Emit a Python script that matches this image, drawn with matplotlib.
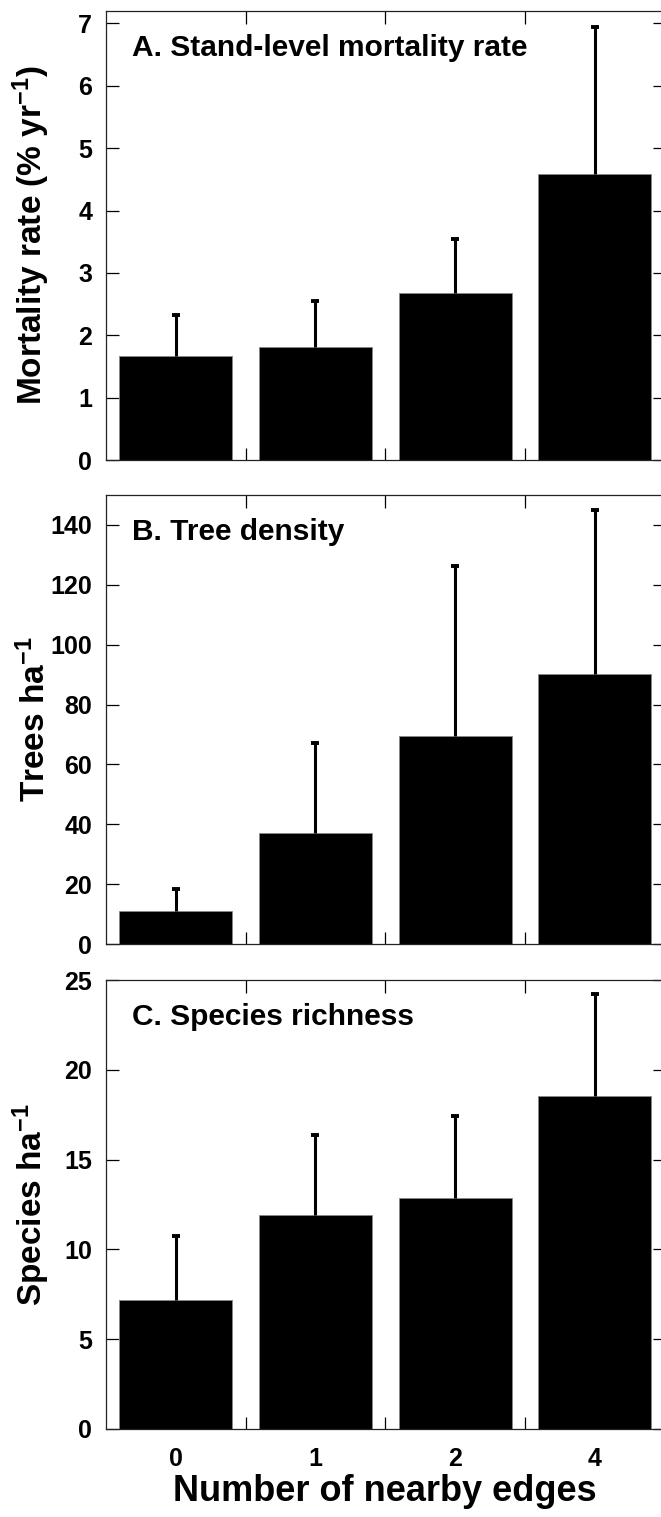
import numpy as np
import matplotlib
matplotlib.use("Agg")
import matplotlib.pyplot as plt

plt.rcParams["font.family"] = ["Liberation Sans", "DejaVu Sans"]
plt.rcParams["font.weight"] = "bold"
plt.rcParams["mathtext.default"] = "regular"

# Number of nearby edges (category labels on the x axis).
edge_labels = ["0", "1", "2", "4"]

# A. Stand-level mortality rate (% per yr): mean and upper error.
mortality = [1.67, 1.81, 2.68, 4.59]
mortality_err = [0.66, 0.74, 0.87, 2.35]

# B. Tree density (trees per ha).
density = [10.9, 37.0, 69.5, 90.2]
density_err = [7.5, 30.1, 56.7, 54.8]

# C. Species richness (species per ha).
richness = [7.18, 11.9, 12.88, 18.54]
richness_err = [3.58, 4.47, 4.55, 5.66]

panels = [
    ("A. Stand-level mortality rate", "Mortality rate (% yr$^{-1}$)",
     mortality, mortality_err, 7.2, np.arange(0, 8, 1)),
    ("B. Tree density", "Trees ha$^{-1}$",
     density, density_err, 150, np.arange(0, 141, 20)),
    ("C. Species richness", "Species ha$^{-1}$",
     richness, richness_err, 25, np.arange(0, 26, 5)),
]

W, H = 661, 1517
fig = plt.figure(figsize=(W / 100, H / 100), dpi=100)

left = 106 / W
width = (664.5 - 106) / W
tops = [11, 495, 980]
panel_h = 449

x = np.arange(len(edge_labels))

for (title, ylabel, vals, errs, ymax, yticks), top in zip(panels, tops):
    ax = fig.add_axes([left, 1 - (top + panel_h) / H, width, panel_h / H])

    ax.bar(x, vals, width=0.81, color="black", edgecolor="#888888",
           linewidth=0.6, zorder=2)
    eb = ax.errorbar(x, vals, yerr=[np.zeros(len(vals)), errs], fmt="none",
                     ecolor="black", elinewidth=2.2, capsize=2.6,
                     capthick=2.8, zorder=3)
    # only the upper cap is drawn
    eb[1][0].set_visible(False)

    ax.set_xlim(-0.5, len(edge_labels) - 0.5)
    ax.set_ylim(0, ymax)
    ax.set_yticks(yticks)

    # bar boundaries carry the x ticks, labels sit under the bars
    ax.set_xticks(x[:-1] + 0.5)
    ax.set_xticks(x, minor=True)
    ax.tick_params(axis="x", which="major", direction="in", length=9,
                   width=0.9, top=True, bottom=True, labelbottom=False)
    ax.tick_params(axis="x", which="minor", length=0, labelsize=18, pad=13)
    ax.tick_params(axis="y", direction="in", length=9, width=0.9,
                   left=True, right=True, labelsize=18, pad=10)

    for sp in ax.spines.values():
        sp.set_linewidth(0.9)
        sp.set_color("#222222")

    ax.set_ylabel(ylabel, fontsize=24, fontweight="bold")
    ax.yaxis.set_label_coords(-0.097, 0.5)

    ax.text(0.047, 0.899, title, transform=ax.transAxes, fontsize=21.5,
            fontweight="bold", va="baseline", ha="left")

    if top == tops[-1]:
        ax.set_xticklabels(edge_labels, minor=True)
        ax.set_xlabel("Number of nearby edges", fontsize=26,
                      fontweight="bold", labelpad=2)

fig.savefig("out.png", dpi=100)
